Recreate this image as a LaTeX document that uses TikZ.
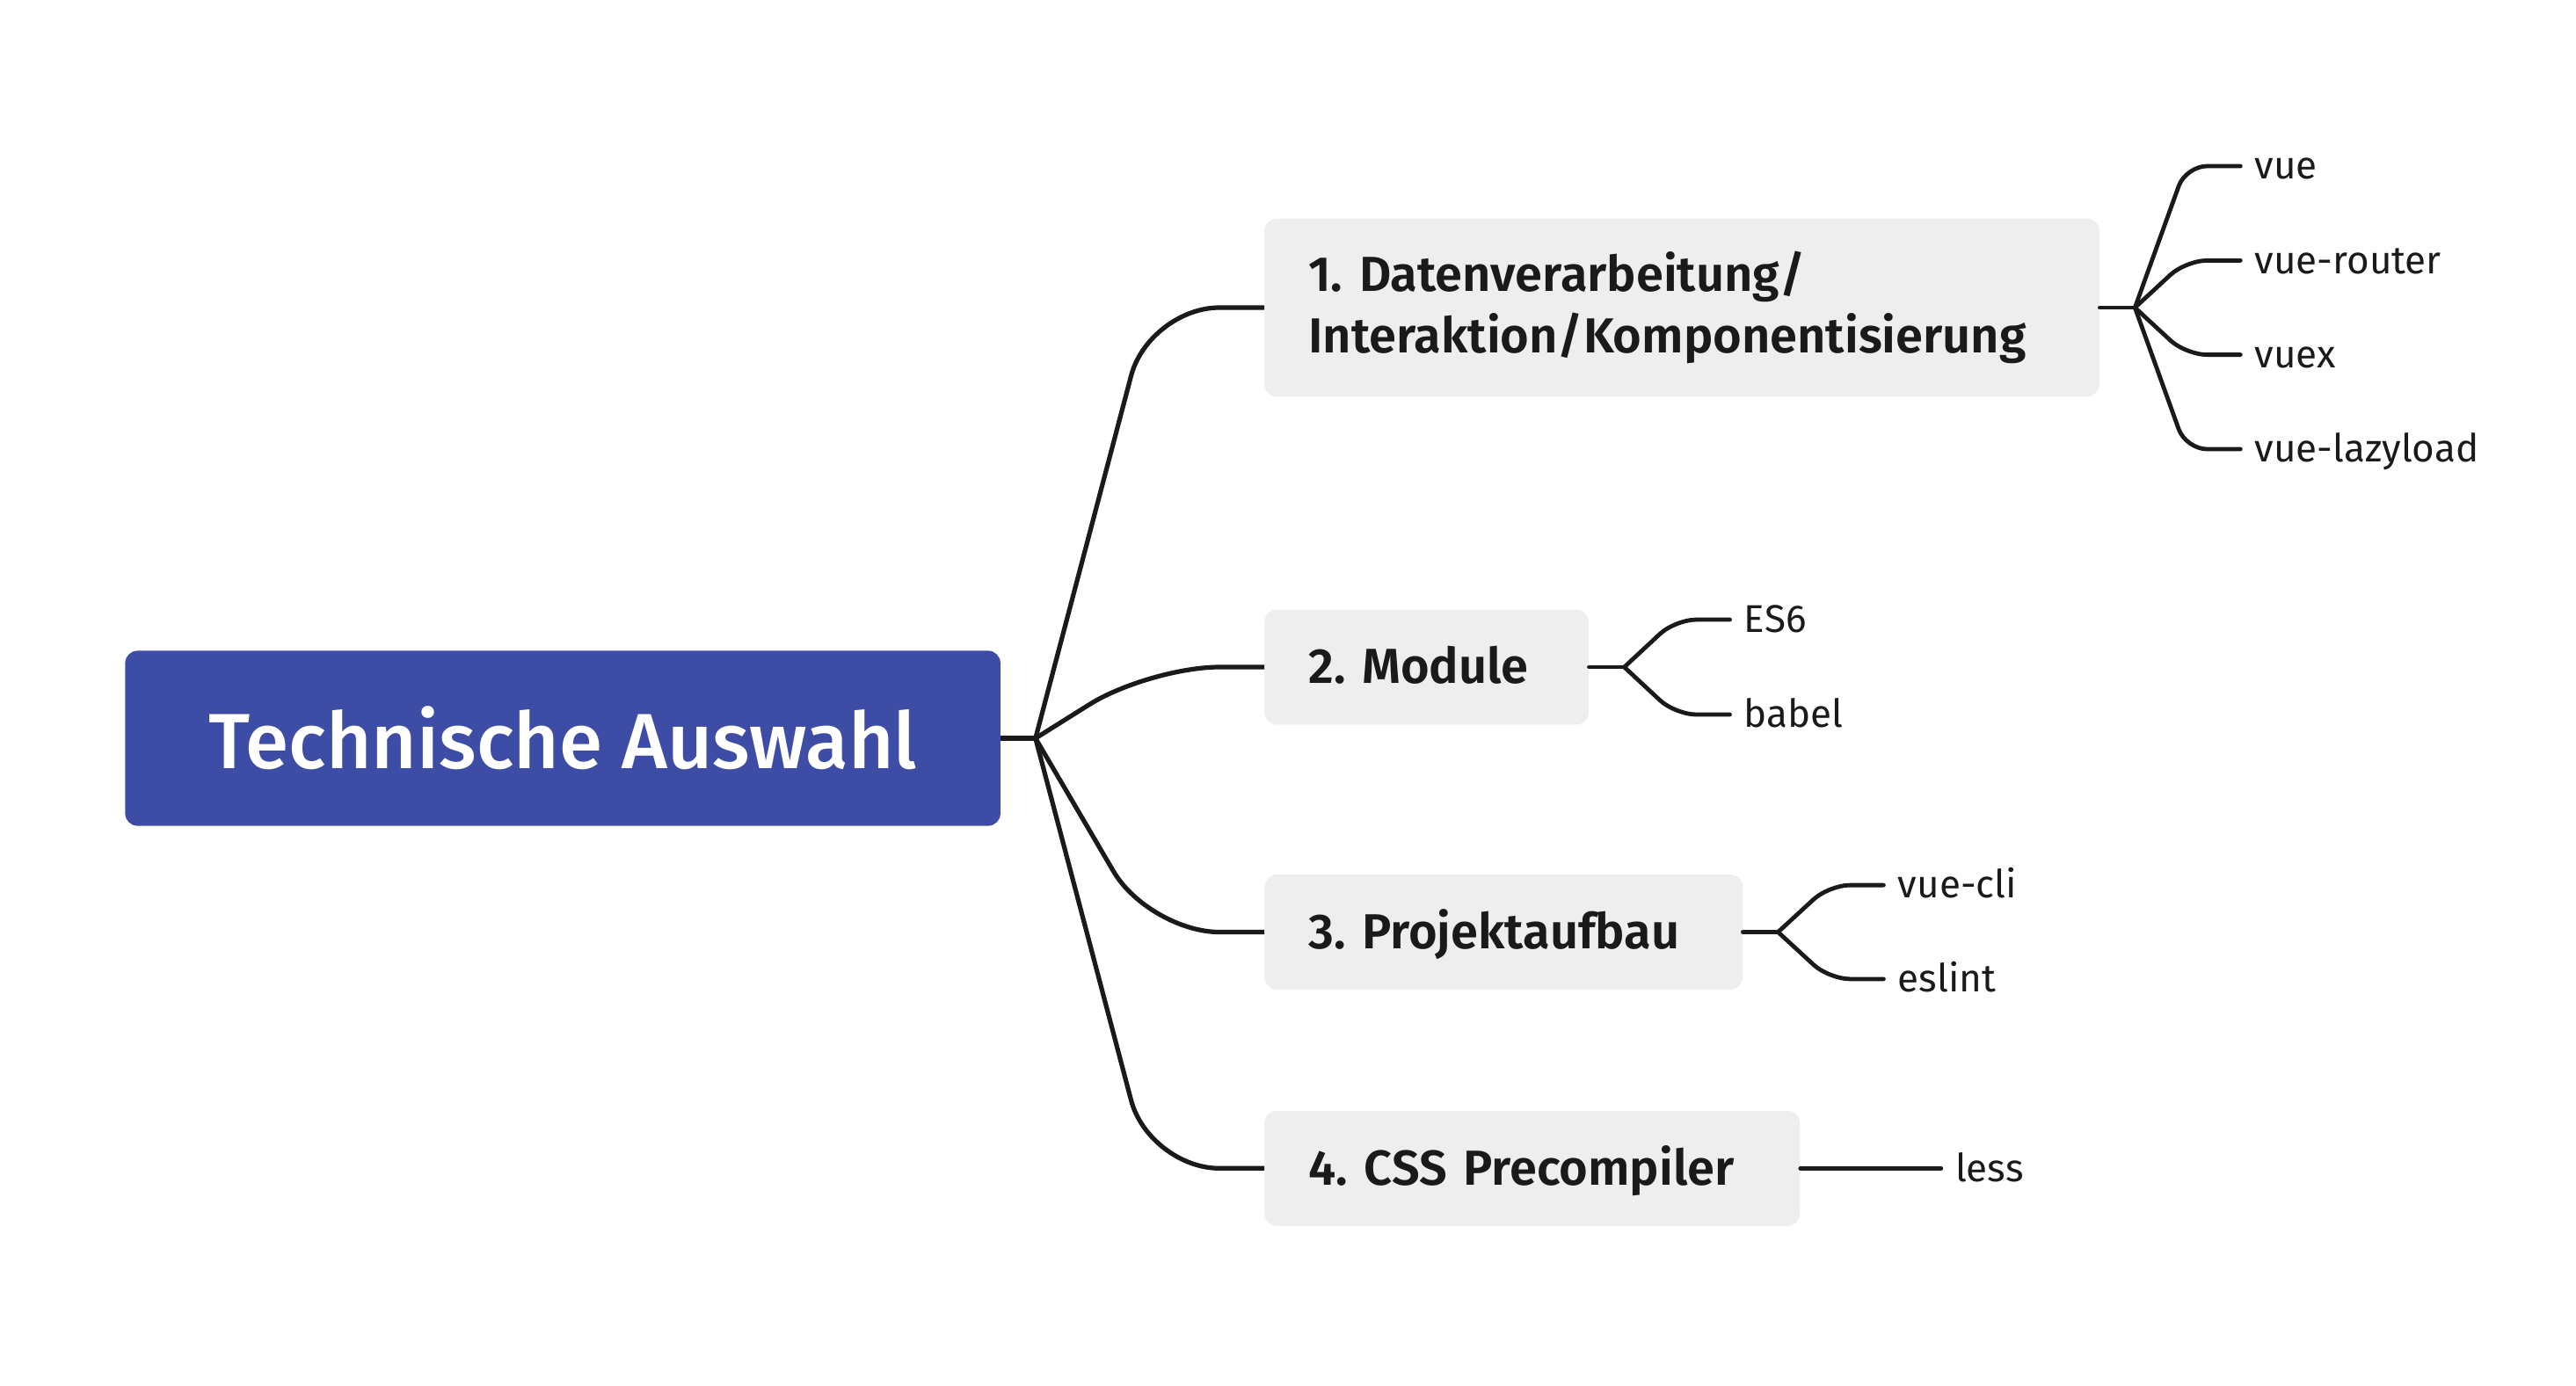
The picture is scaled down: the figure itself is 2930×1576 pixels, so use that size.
\documentclass[tikz,border=0pt]{standalone}
\usepackage{fontspec}
\setmainfont{Fira Sans}
\newfontfamily\rootfont{Fira Sans Medium}
\newfontfamily\topicfont{Fira Sans SemiBold}
\usetikzlibrary{positioning}
\definecolor{rootblue}{RGB}{61,76,165}
\definecolor{topicgray}{RGB}{238,238,238}
\definecolor{inkblack}{RGB}{26,26,26}
\frenchspacing

\begin{document}
\begin{tikzpicture}[x=0.5pt,y=-0.5pt,
    rootbox/.style={rectangle,rounded corners=7pt,fill=rootblue,text=white,
      font=\rootfont\fontsize{44.5}{50}\selectfont,minimum width=497.75pt,minimum height=99.6pt,anchor=west},
    topic/.style={rectangle,rounded corners=7pt,fill=topicgray,text=inkblack,
      font=\topicfont\fontsize{28}{35.3}\selectfont,inner xsep=25pt,minimum height=65.5pt,
      text height=18.9pt,text depth=0pt,anchor=west,align=left},
    leaf/.style={inner sep=0pt,text=inkblack,font=\fontsize{22}{25}\selectfont,
      text height=14.7pt,text depth=0pt,anchor=west},
    branch/.style={draw=inkblack,line width=2.6pt,rounded corners=40pt},
    twig/.style={draw=inkblack,line width=2.4pt,line cap=round,rounded corners=12pt}]

        \useasboundingbox (0,0) rectangle (2930,1576);

        \node[rootbox] (root) at (142,840) {Technische Auswahl};

        \begin{scope}[every node/.style={topic}]
          \node[text width=424.75pt,minimum height=101.4pt,text height={},text depth={}] (t1)
            at (1438,350) {1. Datenverarbeitung/\\Interaktion/Komponentisierung};
          \node[text width=134.35pt] (t2) at (1438,759)    {2. Module};
          \node[text width=221.8pt]  (t3) at (1438,1060.5) {3. Projektaufbau};
          \node[text width=254.5pt]  (t4) at (1438,1329.3) {4. CSS Precompiler};
        \end{scope}

        \begin{scope}[every node/.style={leaf}]
          \node (vue)      at ([xshift=88pt,yshift=80.5pt]t1.east)  {vue};
          \node (router)   at ([xshift=88pt,yshift=26.8pt]t1.east)  {vue-router};
          \node (vuex)     at ([xshift=88pt,yshift=-26.8pt]t1.east) {vuex};
          \node (lazyload) at ([xshift=88pt,yshift=-80.5pt]t1.east) {vue-lazyload};
          \node (es6)      at ([xshift=88pt,yshift=27pt]t2.east)    {ES6};
          \node (babel)    at ([xshift=88pt,yshift=-27pt]t2.east)   {babel};
          \node (cli)      at ([xshift=88pt,yshift=26.7pt]t3.east)  {vue-cli};
          \node (eslint)   at ([xshift=88pt,yshift=-26.7pt]t3.east) {eslint};
          \node (less)     at ([xshift=88pt]t4.east)                {less};
        \end{scope}

        \coordinate (j0) at ([xshift=19.75pt]root.east);
        \coordinate (j1) at ([xshift=20pt]t1.east);
        \coordinate (j2) at ([xshift=20pt]t2.east);
        \coordinate (j3) at ([xshift=20pt]t3.east);

        % main branches
        \draw[branch] (root.east) -- (j0);
        \draw[branch] (j0) -- ([xshift=-65.5pt]t1.west) -- (t1.west);
        \draw[branch] (j0) -- ([xshift=-65.5pt]t2.west) -- (t2.west);
        \draw[branch] (j0) -- ([xshift=-65.5pt]t3.west) -- (t3.west);
        \draw[branch] (j0) -- ([xshift=-65.5pt]t4.west) -- (t4.west);

        % sub branches
        \draw[twig] (t1.east) -- (j1);
        \draw[twig] (j1) -- ([xshift=-39pt]vue.west) -- ([xshift=-8pt]vue.west);
        \draw[twig] (j1) -- ([xshift=-39pt]router.west) -- ([xshift=-8pt]router.west);
        \draw[twig] (j1) -- ([xshift=-39pt]vuex.west) -- ([xshift=-8pt]vuex.west);
        \draw[twig] (j1) -- ([xshift=-39pt]lazyload.west) -- ([xshift=-8pt]lazyload.west);
        \draw[twig] (t2.east) -- (j2);
        \draw[twig] (j2) -- ([xshift=-39pt]es6.west) -- ([xshift=-8pt]es6.west);
        \draw[twig] (j2) -- ([xshift=-39pt]babel.west) -- ([xshift=-8pt]babel.west);
        \draw[twig] (t3.east) -- (j3);
        \draw[twig] (j3) -- ([xshift=-39pt]cli.west) -- ([xshift=-8pt]cli.west);
        \draw[twig] (j3) -- ([xshift=-39pt]eslint.west) -- ([xshift=-8pt]eslint.west);
        \draw[twig] (t4.east) -- ([xshift=-8pt]less.west);

\end{tikzpicture}
\end{document}
